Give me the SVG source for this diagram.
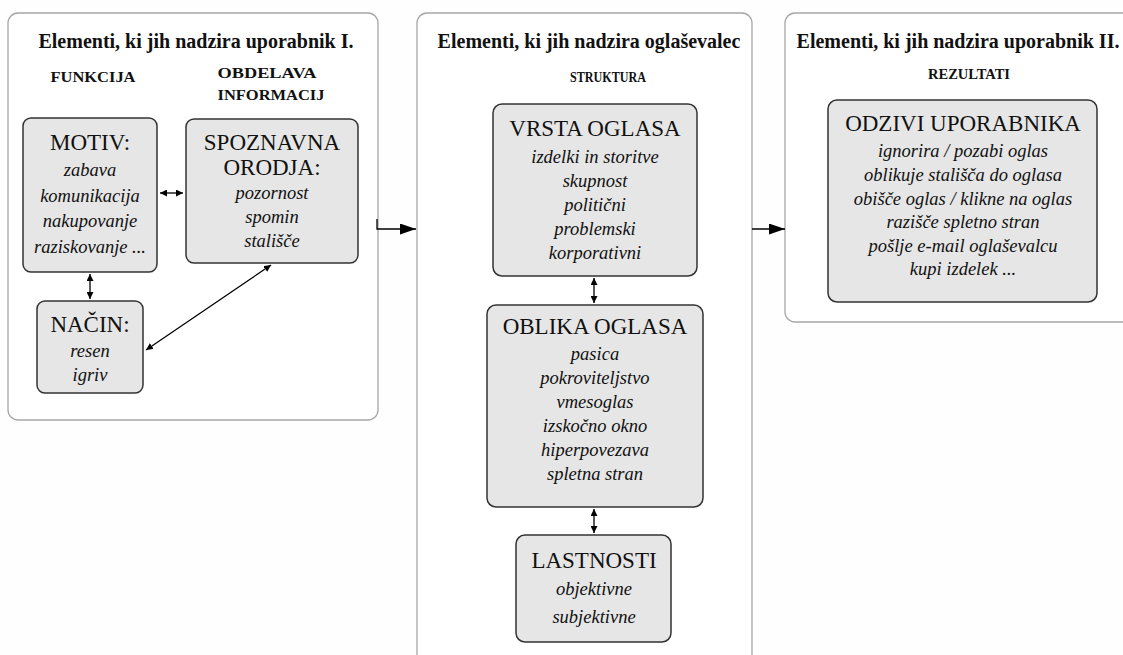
<svg xmlns="http://www.w3.org/2000/svg" width="1123" height="655" viewBox="0 0 1123 655">
<defs>
<marker id="ah" viewBox="0 0 10 10" refX="10" refY="5" markerWidth="7" markerHeight="7" markerUnits="userSpaceOnUse" orient="auto-start-reverse"><path d="M0,0 L10,5 L0,10 z" fill="#000"/></marker>
<marker id="big" viewBox="0 0 10 10" refX="10" refY="5" markerWidth="16" markerHeight="11" markerUnits="userSpaceOnUse" orient="auto" preserveAspectRatio="none"><path d="M0,0 L10,5 L0,10 z" fill="#000"/></marker>
<style>
.panel{fill:#fff;stroke:#a6a6a6;stroke-width:1.3}
.box{fill:#e6e6e6;stroke:#333;stroke-width:1.5}
text{fill:#111;text-anchor:middle}
.t{font-weight:bold;font-size:20px}
.s{font-weight:bold;font-size:15px}
.h{font-size:23px}
.i{font-style:italic;font-size:18.5px}
.c{stroke:#000;stroke-width:1.3;fill:none}
</style>
</defs>
<rect width="1123" height="655" fill="#fefefe"/>
<g font-family="'Liberation Serif', 'Times New Roman', Times, 'DejaVu Serif', serif">
<g id="panel-user1">
<rect class="panel" x="8" y="13" width="370" height="407" rx="10"/>
<text class="t" x="196" y="48">Elementi, ki jih nadzira uporabnik I.</text>
<text class="s" x="93" y="82" textLength="85" lengthAdjust="spacingAndGlyphs">FUNKCIJA</text>
<text class="s" x="267" y="78" textLength="99" lengthAdjust="spacingAndGlyphs">OBDELAVA</text>
<text class="s" x="271" y="100" textLength="107" lengthAdjust="spacingAndGlyphs">INFORMACIJ</text>
</g>
<g id="motiv">
<rect class="box" x="23" y="118" width="134" height="154" rx="8"/>
<text class="h" x="90" y="150">MOTIV:</text>
<text class="i" x="90" y="176">zabava</text>
<text class="i" x="90" y="202">komunikacija</text>
<text class="i" x="90" y="227">nakupovanje</text>
<text class="i" x="90" y="253">raziskovanje ...</text>
</g>
<g id="spoznavna">
<rect class="box" x="186" y="119" width="172" height="144" rx="8"/>
<text class="h" x="272" y="150">SPOZNAVNA</text>
<text class="h" x="272" y="175">ORODJA:</text>
<text class="i" x="272" y="199">pozornost</text>
<text class="i" x="272" y="223">spomin</text>
<text class="i" x="272" y="247">stališče</text>
</g>
<g id="nacin">
<rect class="box" x="37" y="301" width="106" height="92" rx="8"/>
<text class="h" x="90" y="332">NAČIN:</text>
<text class="i" x="90" y="357">resen</text>
<text class="i" x="90" y="381">igriv</text>
</g>
<g id="panel-advertiser">
<rect class="panel" x="417" y="13" width="335" height="700" rx="10"/>
<text class="t" x="589" y="48">Elementi, ki jih nadzira oglaševalec</text>
<text class="s" x="608" y="82" font-size="14" textLength="76" lengthAdjust="spacingAndGlyphs">STRUKTURA</text>
</g>
<g id="vrsta">
<rect class="box" x="493" y="104" width="204" height="172" rx="9"/>
<text class="h" x="595" y="136">VRSTA OGLASA</text>
<text class="i" x="595" y="163">izdelki in storitve</text>
<text class="i" x="595" y="187">skupnost</text>
<text class="i" x="595" y="211">politični</text>
<text class="i" x="595" y="235">problemski</text>
<text class="i" x="595" y="259">korporativni</text>
</g>
<g id="oblika">
<rect class="box" x="487" y="305" width="216" height="202" rx="9"/>
<text class="h" x="595" y="334">OBLIKA OGLASA</text>
<text class="i" x="595" y="360">pasica</text>
<text class="i" x="595" y="384">pokroviteljstvo</text>
<text class="i" x="595" y="408">vmesoglas</text>
<text class="i" x="595" y="432">izskočno okno</text>
<text class="i" x="595" y="456">hiperpovezava</text>
<text class="i" x="595" y="480">spletna stran</text>
</g>
<g id="lastnosti">
<rect class="box" x="516" y="535" width="155" height="107" rx="9"/>
<text class="h" x="594" y="568">LASTNOSTI</text>
<text class="i" x="594" y="595">objektivne</text>
<text class="i" x="594" y="623">subjektivne</text>
</g>
<g id="panel-user2">
<rect class="panel" x="785" y="13" width="400" height="309" rx="10"/>
<text class="t" x="958" y="48">Elementi, ki jih nadzira uporabnik II.</text>
<text class="s" x="969" y="79" textLength="82" lengthAdjust="spacingAndGlyphs">REZULTATI</text>
</g>
<g id="odzivi">
<rect class="box" x="828" y="100" width="269" height="202" rx="9"/>
<text class="h" x="963" y="131">ODZIVI UPORABNIKA</text>
<text class="i" x="963" y="157">ignorira / pozabi oglas</text>
<text class="i" x="963" y="181">oblikuje stališča do oglasa</text>
<text class="i" x="963" y="205">obišče oglas / klikne na oglas</text>
<text class="i" x="963" y="228">razišče spletno stran</text>
<text class="i" x="963" y="252">pošlje e-mail oglaševalcu</text>
<text class="i" x="963" y="275">kupi izdelek ...</text>
</g>
</g>
<g id="connectors">
<line class="c" x1="160" y1="193" x2="183" y2="193" marker-start="url(#ah)" marker-end="url(#ah)"/>
<line class="c" x1="90" y1="274" x2="90" y2="299" marker-start="url(#ah)" marker-end="url(#ah)"/>
<line class="c" x1="146" y1="350" x2="271" y2="265" marker-start="url(#ah)" marker-end="url(#ah)"/>
<line class="c" x1="594" y1="278" x2="594" y2="303" marker-start="url(#ah)" marker-end="url(#ah)"/>
<line class="c" x1="594" y1="509" x2="594" y2="533" marker-start="url(#ah)" marker-end="url(#ah)"/>
<path class="c" d="M377,219 V229 H416" marker-end="url(#big)"/>
<line class="c" x1="752" y1="229" x2="785" y2="229" marker-end="url(#big)"/>
</g>
</svg>
